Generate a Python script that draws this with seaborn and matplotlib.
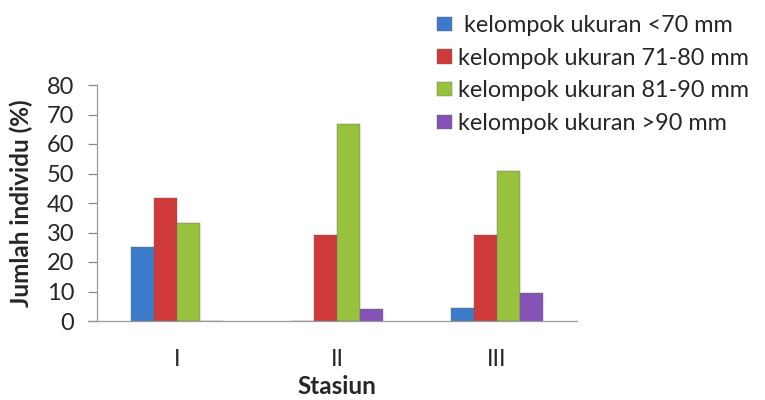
import numpy as np
import pandas as pd
import matplotlib
matplotlib.use("Agg")
import matplotlib.pyplot as plt
import seaborn as sns

# =====================================
# DATA
# =====================================

stasiun = ["I", "II", "III"]

kelompok = [
    " kelompok ukuran <70 mm",
    "kelompok ukuran 71-80 mm",
    "kelompok ukuran 81-90 mm",
    "kelompok ukuran >90 mm",
]

ukuran_lt70 = [25.0, 0.0, 4.5]
ukuran_71_80 = [41.7, 29.2, 29.2]
ukuran_81_90 = [33.3, 66.7, 51.0]
ukuran_gt90 = [0.0, 4.2, 9.4]

warna = ["#3C7ACA", "#CE3A3A", "#98C23E", "#8452B6"]

# =====================================
# LONG TABLE
# =====================================

rows = []
for name, vals in zip(kelompok, [ukuran_lt70, ukuran_71_80, ukuran_81_90, ukuran_gt90]):
    for st, v in zip(stasiun, vals):
        rows.append({"Stasiun": st, "Kelompok": name, "Nilai": v})
df = pd.DataFrame(rows)

# =====================================
# PLOT
# =====================================

sns.set_style("white")
plt.rcParams["font.family"] = ["Lato", "DejaVu Sans"]

fig = plt.figure(figsize=(7.65, 4.0), dpi=100)
ax = fig.add_axes([97 / 765, 1 - 321 / 400, 480 / 765, 236 / 400])

sns.barplot(
    data=df,
    x="Stasiun",
    y="Nilai",
    hue="Kelompok",
    hue_order=kelompok,
    palette=warna,
    width=0.575,
    saturation=1,
    edgecolor="#6a6a6a",
    linewidth=0.3,
    ax=ax,
    legend=True,
)

ax.set_ylim(0, 80)
ax.set_xlim(-0.5, 2.5)
ax.set_yticks(np.arange(0, 81, 10))
ax.tick_params(axis="y", labelsize=17, length=6.5, width=0.9, color="#888888",
               direction="out", left=True, pad=10)
ax.tick_params(axis="x", labelsize=17, length=0, pad=20)

for side in ["top", "right"]:
    ax.spines[side].set_visible(False)
for side in ["left", "bottom"]:
    ax.spines[side].set_color("#999999")
    ax.spines[side].set_linewidth(0.9)
# baseline runs a tick length past the value axis, as in Excel
ax.spines["bottom"].set_bounds(-0.5 - 9 / 160, 2.5)

ax.set_xlabel("Stasiun", fontsize=17.5, fontweight="bold", labelpad=4)
ax.set_ylabel("Jumlah individu (%)", fontsize=17.5, fontweight="bold", labelpad=10)

handles, labels = ax.get_legend_handles_labels()
ax.legend_.remove()
fig.legend(
    handles,
    labels,
    loc="upper left",
    bbox_to_anchor=(437 / 765, 1 - 15 / 400),
    frameon=False,
    fontsize=16.8,
    handlelength=0.64,
    handleheight=0.56,
    handletextpad=0.28,
    labelspacing=0.5,
    borderaxespad=0,
    borderpad=0,
)

fig.savefig("out.png", dpi=100)
plt.close(fig)
